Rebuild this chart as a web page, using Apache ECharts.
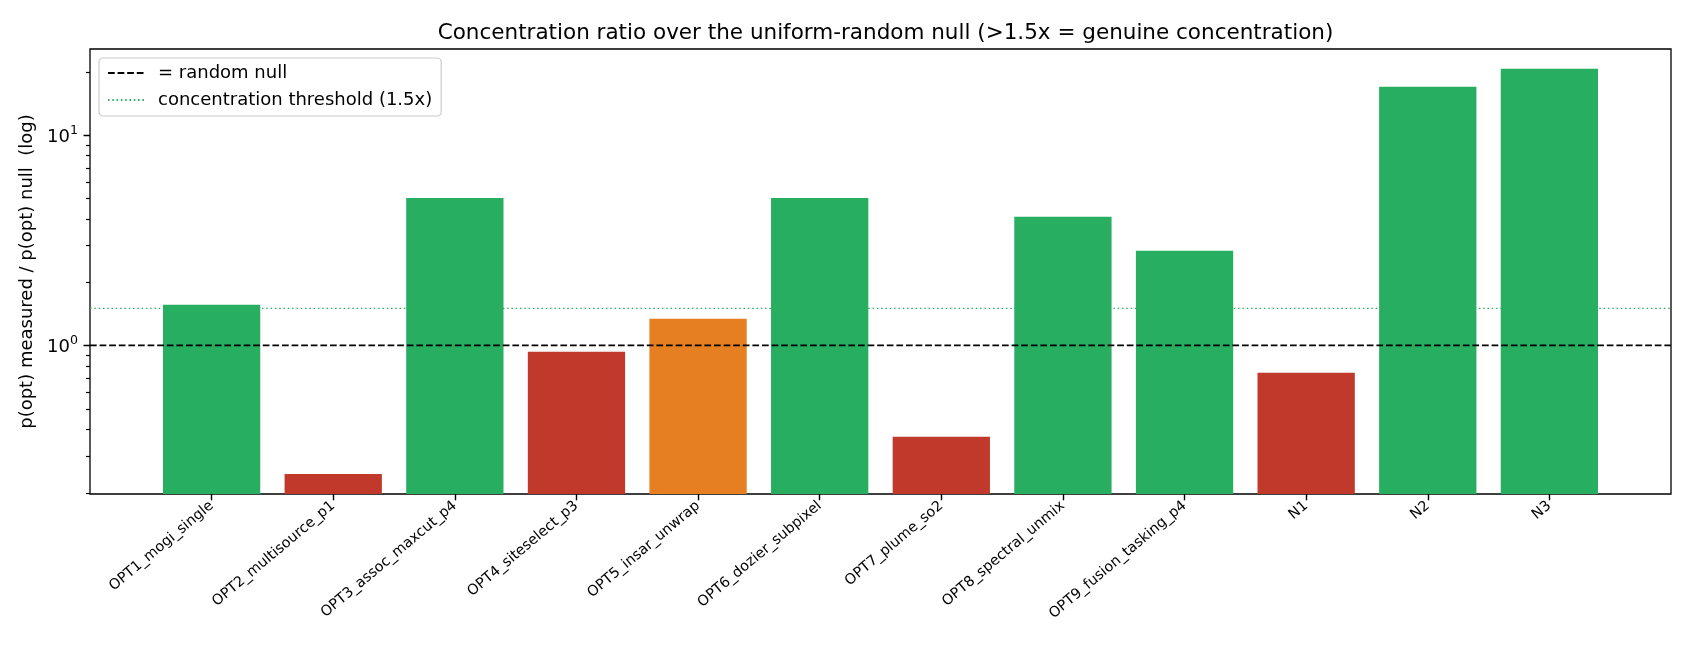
<!DOCTYPE html>
<html>
<head>
<meta charset="utf-8">
<script src="https://cdn.jsdelivr.net/npm/echarts@6/dist/echarts.min.js"></script>
<style>html,body{margin:0;padding:0;background:#fff}#c{width:1690px;height:650px}</style>
</head>
<body>
<div id="c"></div>
<script>
// ---- data ----
const categories = ['OPT1_mogi_single','OPT2_multisource_p1','OPT3_assoc_maxcut_p4','OPT4_siteselect_p3','OPT5_insar_unwrap','OPT6_dozier_subpixel','OPT7_plume_so2','OPT8_spectral_unmix','OPT9_fusion_tasking_p4','N1','N2','N3'];
const ratios = [1.56, 0.245, 5.02, 0.933, 1.34, 5.02, 0.368, 4.09, 2.82, 0.742, 16.95, 20.65];
const nullLevel = 1;
const threshold = 1.5;
const yMajorTicks = [1, 10];
const yMinorTicks = [0.2,0.3,0.4,0.5,0.6,0.7,0.8,0.9,2,3,4,5,6,7,8,9,20];
const yLimits = [0.197, 25.6];
const xLimits = [-1, 12];

// ---- styling ----
const FONT = 'DejaVu Sans';
const GREEN = '#27ae60', RED = '#c0392b', ORANGE = '#e67e22';
const BAR_HALF = 0.4;
const idx = categories.map((c, i) => i);

const chart = echarts.init(document.getElementById('c'), null, {renderer: 'canvas'});

// y-axis tick marks (major + minor) drawn through the axis scale, snapped to pixels
function tickRenderer(len, width) {
  return function (params, api) {
    const p = api.coord([xLimits[0], api.value(1)]);
    const y = Math.round(p[1]) + 0.5;
    return {type: 'line', shape: {x1: p[0] - len, y1: y, x2: p[0], y2: y},
            style: {stroke: '#000', lineWidth: width}};
  };
}

const option = {
  animation: false,
  backgroundColor: '#fff',
  textStyle: {fontFamily: FONT, color: '#000'},
  title: {
    text: 'Concentration ratio over the uniform-random null (>1.5x = genuine concentration)',
    left: 880.5, top: 15, textAlign: 'center',
    textStyle: {fontFamily: FONT, fontSize: 21.5, fontWeight: 'normal', color: '#000', lineHeight: 26}
  },
  grid: {left: 90, right: 19, top: 49, bottom: 156, show: true, borderColor: '#000', borderWidth: 1.3, backgroundColor: 'transparent'},
  legend: {
    left: 99, top: 58, orient: 'vertical',
    data: ['= random null', 'concentration threshold (1.5x)'],
    itemWidth: 36, itemHeight: 14, itemGap: 9,
    padding: [6, 9, 7, 8],
    itemStyle: {opacity: 0, borderWidth: 0},
    backgroundColor: 'rgba(255,255,255,0.8)', borderColor: '#cccccc', borderWidth: 1.2, borderRadius: 4,
    textStyle: {fontFamily: FONT, fontSize: 18, color: '#000', lineHeight: 18, padding: [0, 0, 0, 9]}
  },
  xAxis: {
    type: 'value', min: xLimits[0], max: xLimits[1], interval: 1,
    axisLine: {show: false, onZero: false},
    splitLine: {show: false},
    axisTick: {show: true, customValues: idx, length: 6.3, lineStyle: {color: '#000', width: 1.4}},
    axisLabel: {
      customValues: idx, rotate: 40, margin: 10,
      fontFamily: FONT, fontSize: 14.4, color: '#000',
      formatter: v => categories[Math.round(v)] || ''
    }
  },
  yAxis: {
    type: 'log', min: yLimits[0], max: yLimits[1], logBase: 10,
    name: 'p(opt) measured / p(opt) null  (log)', nameLocation: 'middle', nameRotate: 90, nameGap: 50,
    nameTextStyle: {fontFamily: FONT, fontSize: 18, color: '#000'},
    axisLine: {show: false, onZero: false},
    splitLine: {show: false},
    axisTick: {show: false},
    axisLabel: {
      customValues: yMajorTicks, margin: 12, color: '#000',
      formatter: v => '{b|10}{s|' + Math.round(Math.log10(v)) + '}',
      rich: {
        b: {fontFamily: FONT, fontSize: 18, color: '#000', lineHeight: 22, verticalAlign: 'bottom'},
        s: {fontFamily: FONT, fontSize: 12.6, color: '#000', lineHeight: 22, verticalAlign: 'top', padding: [0, 0, 8, 0]}
      }
    }
  },
  series: [{
    name: 'concentration threshold (1.5x)', type: 'line', z: 1,
    symbol: 'none', silent: true,
    data: [[xLimits[0], threshold], [xLimits[1], threshold]],
    lineStyle: {color: GREEN, width: 1.4, type: [1.5, 2.8]},
    itemStyle: {color: GREEN}
  }, {
    type: 'custom', z: 2, silent: true,
    data: categories.map((c, i) => [i, ratios[i]]),
    encode: {x: 0, y: 1},
    renderItem: function (params, api) {
      const i = api.value(0), v = api.value(1);
      const tl = api.coord([i - BAR_HALF, v]);
      const br = api.coord([i + BAR_HALF, yLimits[0]]);
      const col = v >= threshold ? GREEN : (v >= nullLevel ? ORANGE : RED);
      return {type: 'rect', shape: {x: tl[0], y: tl[1], width: br[0] - tl[0], height: br[1] - tl[1]}, style: {fill: col}};
    }
  }, {
    name: '= random null', type: 'line', z: 3,
    symbol: 'none', silent: true,
    data: [[xLimits[0], nullLevel], [xLimits[1], nullLevel]],
    lineStyle: {color: '#000', width: 1.8, type: [6.7, 2.9]},
    itemStyle: {color: '#000'}
  }, {
    type: 'custom', z: 4, clip: false,
    data: yMajorTicks.map(v => [xLimits[0], v]),
    renderItem: tickRenderer(6.5, 1.5)
  }, {
    type: 'custom', z: 4, clip: false,
    data: yMinorTicks.map(v => [xLimits[0], v]),
    renderItem: tickRenderer(4, 1.2)
  }]
};
chart.setOption(option);
</script>
</body>
</html>
